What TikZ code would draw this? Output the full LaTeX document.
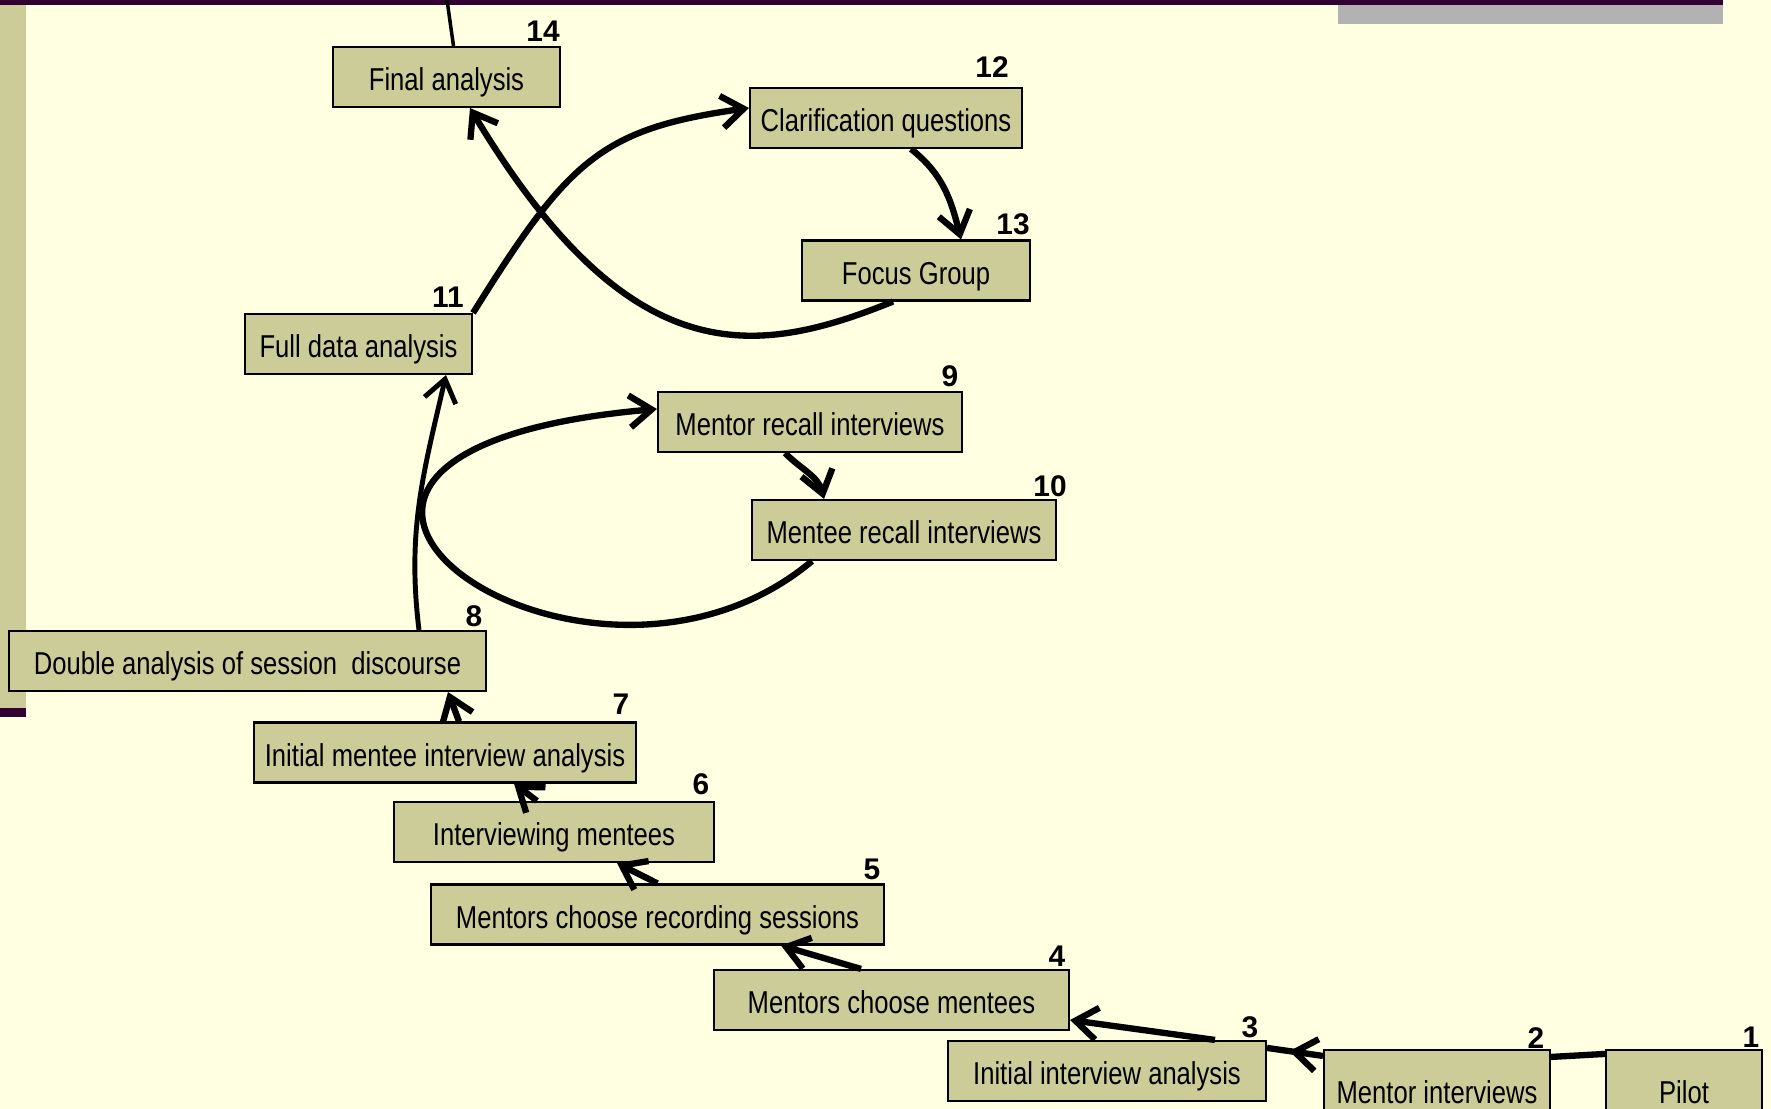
\documentclass[tikz,border=0pt]{standalone}
\usepackage{fontspec}
\setmainfont{Liberation Sans}
\newfontfamily\stagefont[FakeStretch=0.81]{Liberation Sans}
\usetikzlibrary{arrows.meta,decorations.markings}

\definecolor{slidebg}{RGB}{255,255,225}
\definecolor{boxfill}{RGB}{204,204,153}
\definecolor{slideplum}{RGB}{51,0,51}
\definecolor{slidegray}{RGB}{178,178,178}

\tikzset{
stage/.style={draw=black, line width=1.2pt, fill=boxfill, inner sep=0pt,
  minimum height=1.2cm, text height=0.62cm, text depth=0.06cm,
  font=\stagefont\fontsize{18}{21}\selectfont},
stagenum/.style={anchor=base, inner sep=0pt, font=\bfseries\fontsize{17}{20}\selectfont},
barb/.tip={Straight Barb[length=0.44cm,width=0.64cm]},
flow/.style={line width=3.6pt, -barb},
}

\begin{document}
\begin{tikzpicture}
\begin{scope}[scale=1]

\useasboundingbox (0,0) rectangle (35.42,22.18);
\fill[slidebg] (0,0) rectangle (35.42,22.18);

% slide frame
\fill[slideplum] (0,22.08) rectangle (34.46,22.18);
\fill[slidegray] (26.76,21.70) rectangle (34.46,22.08);
\fill[boxfill] (0,8.02) rectangle (0.52,22.08);
\fill[slideplum] (0,7.84) rectangle (0.52,8.02);

% stages
\node[stage, minimum width=3.12cm, minimum height=1.6cm] (pilot) at (33.68,0.38) {Pilot};
\node[stage, minimum width=4.52cm, minimum height=1.6cm] (mentorint) at (28.74,0.38) {Mentor interviews};
\node[stage, minimum width=6.36cm] (initanalysis) at (22.14,0.76) {Initial interview analysis};
\node[stage, minimum width=7.10cm] (choosementees) at (17.83,2.18) {Mentors choose mentees};
\node[stage, minimum width=9.06cm] (choosesessions) at (13.15,3.89) {Mentors choose recording sessions};
\node[stage, minimum width=6.40cm] (intmentees) at (11.08,5.54) {Interviewing mentees};
\node[stage, minimum width=7.64cm] (menteeanalysis) at (8.90,7.13) {Initial mentee interview analysis};
\node[stage, minimum width=9.54cm] (doubleanalysis) at (4.95,8.96) {Double analysis of session~ discourse};
\node[stage, minimum width=6.08cm] (mentorrecall) at (16.20,13.74) {Mentor recall interviews};
\node[stage, minimum width=6.08cm] (menteerecall) at (18.08,11.58) {Mentee recall interviews};
\node[stage, minimum width=4.54cm] (fulldata) at (7.17,15.30) {Full data analysis};
\node[stage, minimum width=5.44cm] (clarify) at (17.72,19.82) {Clarification questions};
\node[stage, minimum width=4.56cm] (focus) at (18.32,16.77) {Focus Group};
\node[stage, minimum width=4.54cm] (final) at (8.93,20.64) {Final analysis};

\foreach \n/\x/\y in {1/35.02/1.22, 2/30.72/1.20, 3/25.00/1.42, 4/21.14/2.84,
  5/17.44/4.58, 6/14.02/6.28, 7/12.42/7.88, 8/9.48/9.64, 9/19.00/14.44,
  10/21.00/12.24, 11/8.96/16.02, 12/19.84/20.62, 13/20.26/17.48, 14/10.86/21.34}
\node[stagenum] (num\n) at (\x,\y) {\n};

\coordinate (exit) at (8.94,22.18);

% connectors
\draw[line width=3.6pt] ([yshift=-0.1cm]pilot.north west) -- ([yshift=-0.16cm]mentorint.north east);
\draw[line width=3.6pt, postaction={decorate},
  decoration={markings, mark=at position 0.6 with {\arrow{barb}}}]
  ([yshift=-0.14cm]mentorint.north west) -- ([yshift=-0.16cm]initanalysis.north east);
\draw[flow] ([xshift=2.16cm]initanalysis.north) -- ([yshift=-0.4cm]choosementees.east);
\draw[flow] ([xshift=-0.61cm]choosementees.north) -- ([xshift=2.47cm]choosesessions.south);
\draw[flow] (choosesessions.north) -- ([xshift=1.26cm]intmentees.south);
\draw[flow] ([xshift=-0.34cm]intmentees.north) -- ([xshift=1.38cm]menteeanalysis.south);
\draw[flow] ([xshift=0.28cm]menteeanalysis.north) -- ([xshift=4.01cm]doubleanalysis.south);
\draw[flow, line width=2.8pt] ([xshift=3.43cm]doubleanalysis.north) to[out=97,in=-103] ([xshift=1.75cm]fulldata.south);

\draw[flow] ([xshift=-0.5cm]mentorrecall.south) to[out=-45,in=105] ([xshift=-1.6cm]menteerecall.north);
\draw[flow] ([xshift=-1.84cm]menteerecall.south) to[out=-140,in=-175,out distance=6cm,in distance=10cm] ([yshift=0.26cm]mentorrecall.west);

\draw[flow] (fulldata.north east) to[out=58,in=188,out distance=3.6cm,in distance=3cm] ([yshift=0.2cm]clarify.west);
\draw[flow] ([xshift=0.5cm]clarify.south) to[out=-38,in=104] ([xshift=0.9cm]focus.north);
\draw[flow] ([xshift=-0.46cm]focus.south) to[out=-158,in=-59,out distance=3cm,in distance=6.2cm] ([xshift=0.47cm]final.south);

\draw[line width=2pt] ([xshift=0.14cm]final.north) -- (exit);

\end{scope}
\end{tikzpicture}
\end{document}
